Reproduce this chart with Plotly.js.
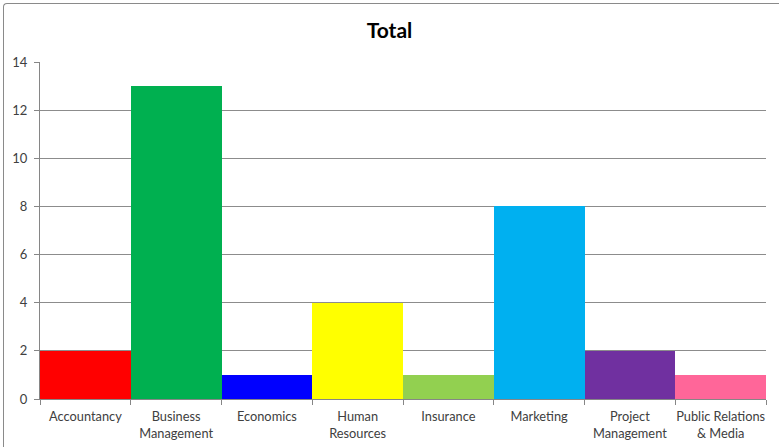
<!DOCTYPE html>
<html>
<head>
<meta charset="utf-8">
<script src="https://cdn.plot.ly/plotly-3.0.1.min.js"></script>
<style>
html,body{margin:0;padding:0;background:#fff;overflow:hidden;}
#wrap{position:relative;width:779px;height:447px;}
#chart{position:absolute;left:0;top:0;width:779px;height:447px;}
#frame{position:absolute;left:3px;top:3px;width:800px;height:470px;border-left:1px solid #8a8a8a;border-top:1px solid #8a8a8a;border-radius:4px;pointer-events:none;}
</style>
</head>
<body>
<div id="wrap"><div id="chart"></div><div id="frame"></div></div>
<script>
const categories = ["Accountancy","Business<br>Management","Economics","Human<br>Resources","Insurance","Marketing","Project<br>Management","Public Relations<br>& Media"];
const totals = [2, 13, 1, 4, 1, 8, 2, 1];
const barColors = ["#FF0000","#00B050","#0000FF","#FFFF00","#92D050","#00B0F0","#7030A0","#FF6699"];
const yTicks = [0,2,4,6,8,10,12,14];

Plotly.newPlot("chart", [{
  type: "bar",
  x: categories,
  y: totals,
  marker: {color: barColors, line: {width: 0}},
  hoverinfo: "x+y"
}], {
  width: 779, height: 447,
  margin: {l: 40, r: 13, t: 62, b: 48},
  paper_bgcolor: "#ffffff",
  plot_bgcolor: "#ffffff",
  bargap: 0,
  showlegend: false,
  title: {text: "<b>Total</b>", x: 0.5, xanchor: "center", y: 0.932, yanchor: "middle",
          font: {family: "Lato, Open Sans, sans-serif", size: 21, color: "#000000"}},
  font: {family: "Lato, Liberation Sans, sans-serif", size: 12.5, color: "#404040"},
  xaxis: {
    type: "category",
    tickson: "boundaries",
    tickangle: 0,
    ticks: "outside", ticklen: 5, tickcolor: "#868686", tickwidth: 1,
    showline: true, linecolor: "#868686", linewidth: 1,
    showgrid: false, zeroline: false,
    ticklabelstandoff: 6,
    tickfont: {family: "Lato, Liberation Sans, sans-serif", size: 12.8, color: "#404040"},
    fixedrange: true
  },
  yaxis: {
    range: [0, 14],
    tickvals: yTicks,
    ticks: "outside", ticklen: 5, tickcolor: "#868686", tickwidth: 1,
    showline: true, linecolor: "#868686", linewidth: 1,
    showgrid: true, gridcolor: "#8c8c8c", gridwidth: 1,
    zeroline: false,
    tickfont: {family: "Lato, Liberation Sans, sans-serif", size: 13, color: "#404040"},
    ticklabelstandoff: 4,
    fixedrange: true
  }
}, {displayModeBar: false, staticPlot: true});
</script>
</body>
</html>
